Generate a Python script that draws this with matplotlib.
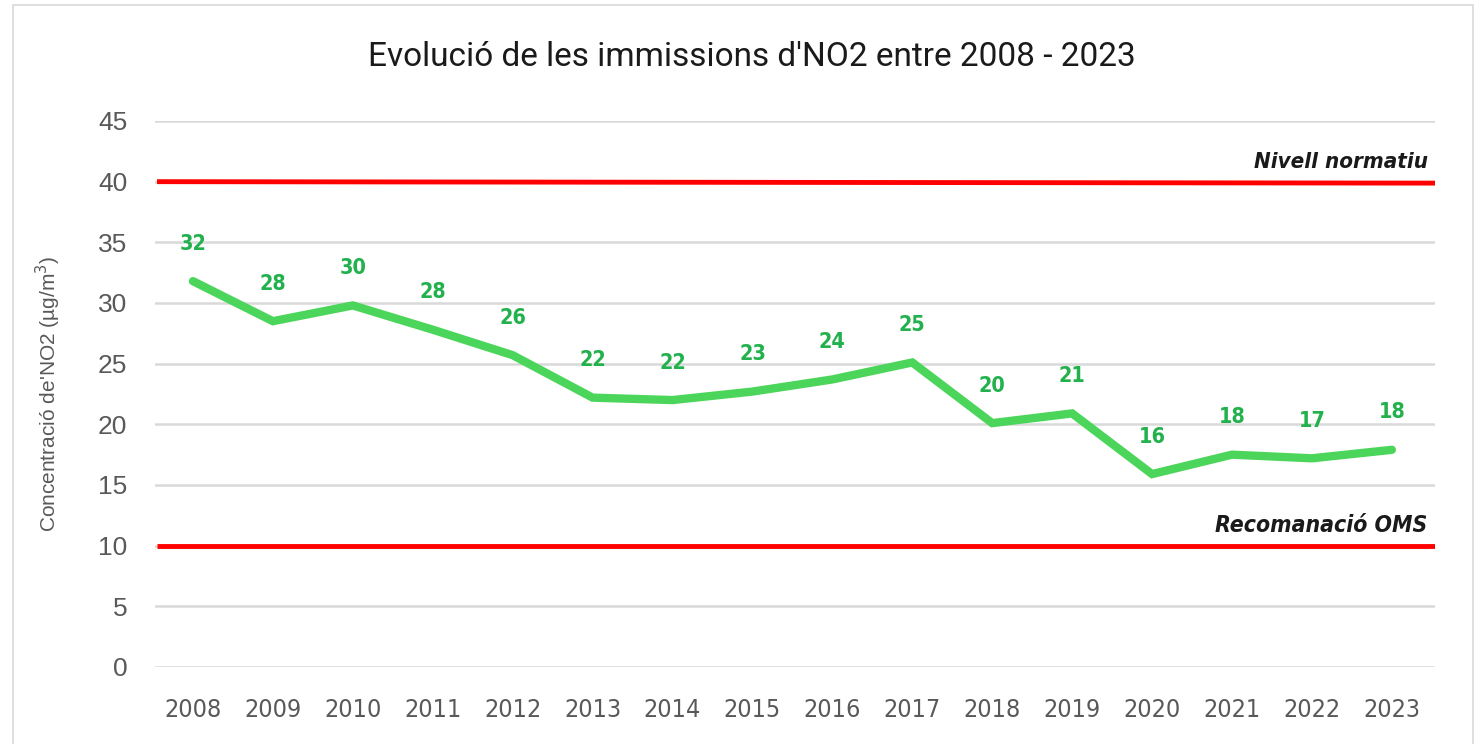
import matplotlib
matplotlib.use("Agg")
import matplotlib.pyplot as plt
from matplotlib.patches import Rectangle
from matplotlib import font_manager
from matplotlib.font_manager import FontProperties

years = ["2008", "2009", "2010", "2011", "2012", "2013", "2014", "2015",
         "2016", "2017", "2018", "2019", "2020", "2021", "2022", "2023"]
no2 = [31.8, 28.5, 29.8, 27.8, 25.7, 22.2, 22.0, 22.7,
       23.7, 25.1, 20.1, 20.9, 15.9, 17.5, 17.2, 17.9]
labels = ["32", "28", "30", "28", "26", "22", "22", "23",
          "24", "25", "20", "21", "16", "18", "17", "18"]
normatiu = [40.0, 39.88]
oms = [10.0, 10.0]
yticks = [0, 5, 10, 15, 20, 25, 30, 35, 40, 45]


def find_font(weight_bold=False, italic=False):
    cands = []
    for f in font_manager.fontManager.ttflist:
        st = str(f.stretch)
        if st in ("condensed", "semi-condensed", "extra-condensed") or "Narrow" in f.name or "Condensed" in f.name:
            isbold = (f.weight in ("bold", 700, "semibold", 600)) or (isinstance(f.weight, int) and f.weight >= 600)
            isit = f.style in ("italic", "oblique")
            if isbold == weight_bold and isit == italic:
                cands.append(f.fname)
    return FontProperties(fname=cands[0]) if cands else None


fp_reg = find_font(False, False)
fp_bold = find_font(True, False)
fp_bi = find_font(True, True)

W, H = 1481, 744
fig = plt.figure(figsize=(W / 100, H / 100), dpi=100)
fig.patch.set_facecolor("white")

fig.patches.append(Rectangle((13 / W, -0.05), (1473 - 13) / W, 1.05 - 5 / H,
                             transform=fig.transFigure, fill=False,
                             edgecolor="#d9d9d9", linewidth=1.2))

ax = fig.add_axes([155 / W, 1 - 667 / H, (1435 - 155) / W, (667 - 121) / H])
x = list(range(len(years)))
ax.set_xlim(-0.475, 15.54)
ax.set_ylim(0, 45)

ax.set_yticks(yticks)
ax.set_yticklabels([str(v) for v in yticks], fontsize=19, color="#595959", family="Liberation Sans")
ax.set_xticks(x)
ax.set_xticklabels(years, color="#595959")
for t in ax.get_xticklabels():
    if fp_reg is not None:
        t.set_fontproperties(fp_reg)
    else:
        t.set_family("Roboto")
    t.set_fontsize(18)
ax.tick_params(axis="both", length=0)
ax.tick_params(axis="y", pad=20)
ax.tick_params(axis="x", pad=22)
for s in ax.spines.values():
    s.set_visible(False)
ax.grid(axis="y", color="#d9d9d9", linewidth=1.8)
ax.set_axisbelow(True)

ax.plot([-0.45, 15.54], normatiu, color="#ff0000", linewidth=3.5, solid_capstyle="butt", zorder=3)
ax.plot([-0.45, 15.54], oms, color="#ff0000", linewidth=3.5, solid_capstyle="butt", zorder=3)

ax.plot(x, no2, color="#4cd55b", linewidth=6, solid_capstyle="round",
        solid_joinstyle="miter", zorder=4)


def styled(fp, size, bold=False, italic=False):
    kw = {}
    if fp is not None:
        p = fp.copy()
        p.set_size(size)
        kw["fontproperties"] = p
    else:
        kw.update(dict(family="Roboto", fontsize=size,
                       fontweight="bold" if bold else "normal",
                       fontstyle="italic" if italic else "normal"))
    return kw


for xi, yi, lab in zip(x, no2, labels):
    ax.annotate(lab, (xi, yi), xytext=(0, 27), textcoords="offset points",
                ha="center", va="center", color="#22b14c", zorder=5,
                **styled(fp_bold, 15.5, bold=True))

ax.text(15.45, 41.6, "Nivell normatiu", ha="right", va="center",
        color="#1a1a1a", **styled(fp_bi, 16, bold=True, italic=True))
ax.text(15.45, 11.7, "Recomanació OMS", ha="right", va="center",
        color="#1a1a1a", **styled(fp_bi, 16.5, bold=True, italic=True))

ax.set_ylabel("Concentració de'NO2 (µg/m$^3$)", fontsize=15, color="#595959",
              family="Liberation Sans")
ax.yaxis.set_label_coords(-0.072, 0.5)

fig.text(752 / W, 1 - 57 / H, "Evolució de les immissions d'NO2 entre 2008 - 2023",
         ha="center", va="center", fontsize=24, color="#1a1a1a", family="Roboto")

fig.savefig("out.png", dpi=100, facecolor="white")
